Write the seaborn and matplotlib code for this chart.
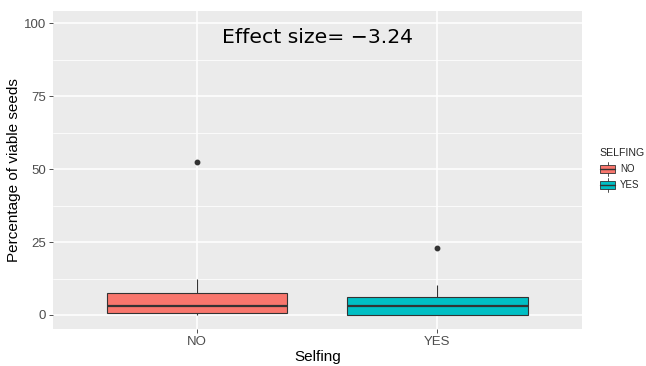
import numpy as np
import pandas as pd
import matplotlib
matplotlib.use("Agg")
import matplotlib.pyplot as plt
from matplotlib.legend_handler import HandlerBase
from matplotlib.patches import Rectangle
from matplotlib.lines import Line2D
import seaborn as sns

# Percentage of viable seeds per group
groups = ["NO", "YES"]
no_values = [0.0, 0.3, 0.6, 1.8, 3.2, 5.0, 7.5, 12.3, 52.4]
yes_values = [0.0, 0.0, 0.0, 1.5, 3.0, 4.5, 6.25, 10.2, 22.9]
colors = ["#F8766D", "#00BFC4"]
y_ticks = [0, 25, 50, 75, 100]
effect_size = "Effect size= \u22123.24"

df = pd.DataFrame({
    "Selfing": ["NO"] * len(no_values) + ["YES"] * len(yes_values),
    "Viable": no_values + yes_values,
})

sns.set_theme(style="white")
plt.rcParams["font.family"] = ["Liberation Sans", "DejaVu Sans"]

fig = plt.figure(figsize=(6.46, 3.66), dpi=100)
ax = fig.add_axes([0.0816, 0.1011, 0.819, 0.869])
ax.set_facecolor("#EBEBEB")

edge = "#333333"
sns.boxplot(
    data=df, x="Selfing", y="Viable", hue="Selfing", order=groups,
    hue_order=groups, palette=colors, width=0.75, linewidth=0.8,
    linecolor=edge, showcaps=False, legend=False, saturation=1,
    medianprops=dict(linewidth=1.6, color=edge),
    flierprops=dict(marker="o", markersize=3.2, markerfacecolor=edge,
                    markeredgecolor=edge),
    ax=ax, zorder=3,
)

# ggplot-like grid
ax.set_yticks(y_ticks)
ax.set_yticks([12.5, 37.5, 62.5, 87.5], minor=True)
ax.grid(True, which="major", color="white", linewidth=1.1, zorder=0)
ax.grid(True, which="minor", axis="y", color="white", linewidth=0.55, zorder=0)
ax.set_axisbelow(True)

ax.set_xlim(-0.6, 1.6)
ax.set_ylim(-4.8, 104.2)
for s in ax.spines.values():
    s.set_visible(False)

ax.tick_params(axis="both", which="major", length=3, width=0.6, color=edge,
               labelsize=9.5, labelcolor="#4D4D4D", pad=2, bottom=True, left=True)
ax.tick_params(axis="both", which="minor", length=0)
ax.set_xlabel("Selfing", fontsize=11, color="black", labelpad=1.5)
ax.set_ylabel("Percentage of viable seeds", fontsize=11, color="black", labelpad=2)

ax.text(0.5, 93.3, effect_size, ha="center", va="baseline", fontsize=14.7,
        family="DejaVu Sans", color="black")


class BoxKey(HandlerBase):
    def create_artists(self, legend, orig_handle, xdescent, ydescent,
                       width, height, fontsize, trans):
        fc = orig_handle.get_facecolor()
        x0, y0 = -xdescent, -ydescent
        cx = x0 + width / 2
        box = Rectangle((x0, y0 + height * 0.05), width, height * 0.9,
                        facecolor=fc, edgecolor=edge, linewidth=0.6,
                        transform=trans)
        whisk = Line2D([cx, cx], [y0 - height * 0.3, y0 + height * 1.3],
                       color=edge, linewidth=0.6, transform=trans)
        med = Line2D([x0, x0 + width], [y0 + height * 0.5] * 2,
                     color=edge, linewidth=1.0, transform=trans)
        return [whisk, box, med]


handles = [Rectangle((0, 0), 1, 1, facecolor=c) for c in colors]
leg = fig.legend(handles, groups, title="SELFING", loc="upper left",
                 bbox_to_anchor=(0.915, 0.62), frameon=False, fontsize=7,
                 title_fontsize=7.6, handlelength=1.6, handleheight=1.0,
                 handletextpad=0.5, labelspacing=0.65, alignment="left",
                 handler_map={Rectangle: BoxKey()})

fig.savefig("out.png", dpi=100)
